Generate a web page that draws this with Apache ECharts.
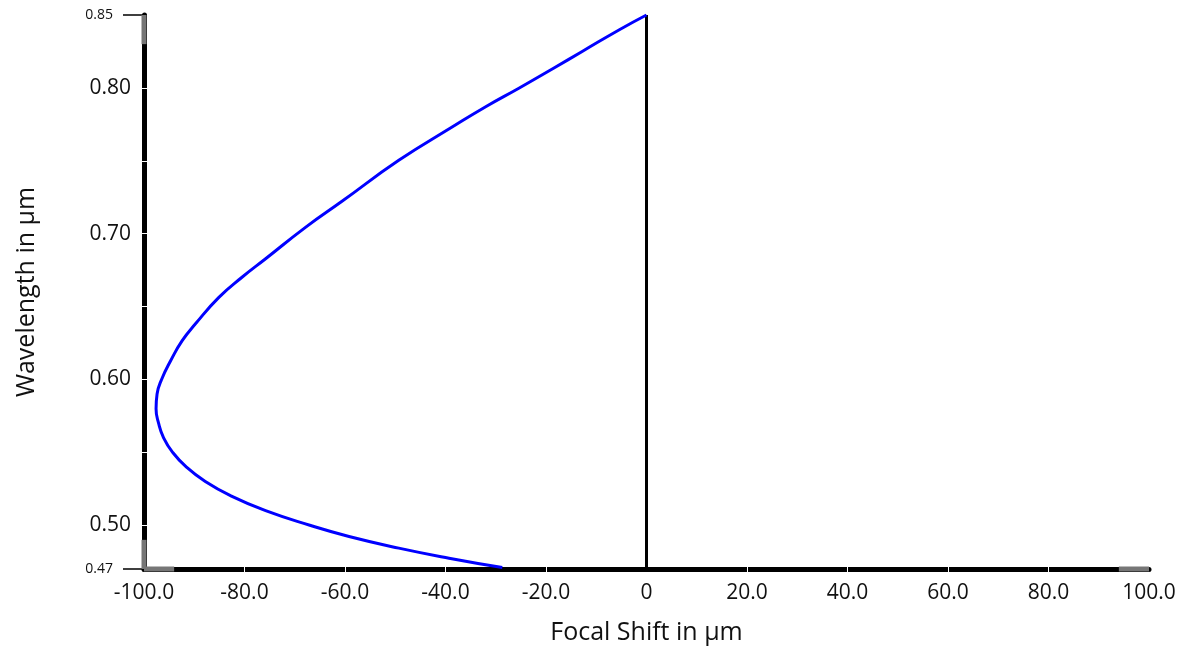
<!DOCTYPE html>
<html><head><meta charset="utf-8">
<script src="https://cdn.jsdelivr.net/npm/echarts@6/dist/echarts.min.js"></script>
<style>html,body{margin:0;padding:0;background:#fff}#c{width:1188px;height:650px}</style>
</head><body><div id="c"></div>
<script>
// Focal shift (µm) vs wavelength (µm)
const focalShift = [0, -5.4, -12.8, -18.5, -25.4, -32.0, -38.6, -49.3, -60.6, -67.8, -75.8, -80.5, -85.1, -89.8, -92.4, -94.7, -96.5, -97.4, -97.6, -97.1, -96.1, -94.3, -91.6, -87.8, -82.6, -75.8, -67.0, -59.2, -49.3, -39.3, -28.7];
const wavelength = [0.85, 0.8399, 0.825, 0.8135, 0.7998, 0.7871, 0.7733, 0.7503, 0.7222, 0.7045, 0.6828, 0.6701, 0.6563, 0.638, 0.6266, 0.6128, 0.60, 0.59, 0.58, 0.57, 0.56, 0.55, 0.54, 0.53, 0.52, 0.51, 0.50, 0.4923, 0.4843, 0.4774, 0.471];
const refLineX = [0, 0];
const refLineY = [0.47, 0.85];
const xTicks = [-100, -80, -60, -40, -20, 0, 20, 40, 60, 80, 100];
const xInnerTicks = [-80, -60, -40, -20, 20, 40, 60, 80];
const yMajorLabels = [0.5, 0.6, 0.7, 0.8];
const yInnerTicks = [0.5, 0.55, 0.6, 0.65, 0.7, 0.75, 0.8];
const yEndLabels = [0.47, 0.85];
const xMin = -100, xMax = 100, yMin = 0.47, yMax = 0.85;
// gray end caps of the axis bars (data ranges)
const yCapLow = [0.47, 0.49], yCapHigh = [0.83, 0.85];
const xCapLow = [-100, -94], xCapHigh = [94, 100];

const FONT = 'Open Sans';
const chart = echarts.init(document.getElementById('c'));
const curve = focalShift.map((x, i) => [x, wavelength[i]]);
const capStyle = {color: '#767676', width: 5};
function capSeries(data) {
  return {type: 'line', data, symbol: 'none', silent: true, clip: false,
    lineStyle: capStyle, z: 3, animation: false};
}
chart.setOption({
  animation: false,
  grid: {left: 144, right: 39, top: 15, bottom: 81},
  xAxis: [{
    type: 'value', min: xMin, max: xMax, interval: 20,
    name: 'Focal Shift in µm', nameLocation: 'middle', nameGap: 51,
    nameTextStyle: {fontFamily: FONT, fontSize: 25, color: '#111'},
    axisLine: {show: true, onZero: false, lineStyle: {color: '#000', width: 5}},
    axisTick: {show: true, inside: true, length: 3, customValues: xInnerTicks, lineStyle: {color: '#fff', width: 1}},
    axisLabel: {margin: 14, fontFamily: FONT, fontSize: 21, color: '#111', customValues: xTicks,
      formatter: v => (v === 0 ? '0' : v.toFixed(1))},
    splitLine: {show: false}
  }, {
    type: 'value', min: xMin, max: xMax, position: 'bottom',
    axisLine: {show: false, onZero: false},
    axisTick: {show: true, inside: false, length: 3, customValues: xInnerTicks, lineStyle: {color: '#fff', width: 1}},
    axisLabel: {show: false}, splitLine: {show: false}
  }],
  yAxis: [{
    type: 'value', min: yMin, max: yMax,
    name: 'Wavelength in µm', nameLocation: 'middle', nameGap: 105,
    nameTextStyle: {fontFamily: FONT, fontSize: 25, color: '#111'},
    axisLine: {show: true, onZero: false, lineStyle: {color: '#000', width: 5}},
    axisTick: {show: true, inside: true, length: 3, customValues: yInnerTicks, lineStyle: {color: '#fff', width: 1}},
    axisLabel: {margin: 13, fontFamily: FONT, fontSize: 21, color: '#111', customValues: yMajorLabels,
      formatter: v => v.toFixed(2)},
    splitLine: {show: false}
  }, {
    type: 'value', min: yMin, max: yMax, position: 'left',
    axisLine: {show: false, onZero: false},
    axisTick: {show: true, inside: false, length: 21, customValues: yEndLabels, lineStyle: {color: '#000', width: 1.5}},
    axisLabel: {margin: 31, fontFamily: FONT, fontSize: 14, color: '#111', customValues: yEndLabels,
      formatter: v => v.toFixed(2)},
    splitLine: {show: false}
  }, {
    type: 'value', min: yMin, max: yMax, position: 'left',
    axisLine: {show: false, onZero: false},
    axisTick: {show: true, inside: false, length: 3, customValues: yInnerTicks, lineStyle: {color: '#fff', width: 1}},
    axisLabel: {show: false}, splitLine: {show: false}
  }],
  series: [
    {type: 'line', data: curve, symbol: 'none', smooth: 0.5, clip: false,
      lineStyle: {color: '#0000ff', width: 3}, z: 4},
    {type: 'line', data: refLineX.map((x, i) => [x, refLineY[i]]), symbol: 'none', clip: false,
      lineStyle: {color: '#000', width: 3}, z: 3},
    capSeries([[xMin, yCapLow[0]], [xMin, yCapLow[1]]]),
    capSeries([[xMin, yCapHigh[0]], [xMin, yCapHigh[1]]]),
    capSeries([[xCapLow[0], yMin], [xCapLow[1], yMin]]),
    capSeries([[xCapHigh[0], yMin], [xCapHigh[1], yMin]])
  ]
});
</script></body></html>
